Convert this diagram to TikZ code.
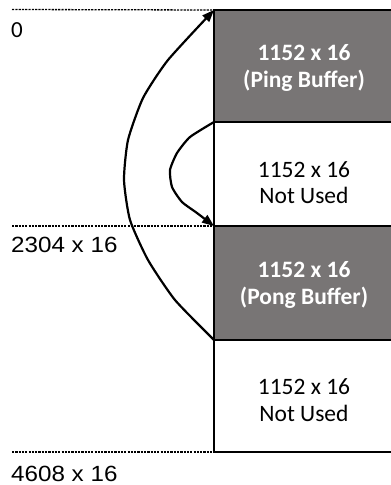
\documentclass[tikz,border=0pt]{standalone}
\usepackage{fontspec}
\setmainfont{Carlito}
\newfontfamily\labelfont{Liberation Sans}
\usetikzlibrary{arrows.meta}
\definecolor{bufgray}{RGB}{120,117,117}
\begin{document}
\begin{tikzpicture}[x=1pt,y=-1pt,
  membox/.style={draw=black, line width=1.9pt, rectangle, outer sep=0pt,
    inner sep=0pt, anchor=north west, minimum width=180pt},
  usedbox/.style={membox, fill=bufgray},
  freebox/.style={membox, fill=white},
  boxtext/.style={anchor=base, inner sep=0pt, font=\fontsize{23.5}{27}\selectfont},
  usedtext/.style={boxtext, text=white, font=\fontsize{23.5}{27}\selectfont\bfseries},
  addr/.style={anchor=base west, inner sep=0pt, font=\labelfont\fontsize{22}{26}\selectfont},
  guide/.style={line width=1.3pt, dash pattern=on 2.2pt off 1.1pt, black},
  flow/.style={line width=2.2pt, -{Triangle[length=12pt,width=9pt]}}
]
\useasboundingbox (0,0) rectangle (391,485);
\clip (0,0) rectangle (391,485);

% memory blocks
\node[usedbox, minimum height=112pt] (ping) at (214,10)  {};
\node[freebox, minimum height=104pt] (nu1)  at (214,122) {};
\node[usedbox, minimum height=114pt] (pong) at (214,226) {};
\node[freebox, minimum height=112pt] (nu2)  at (214,340) {};

% block contents
\node[usedtext] (pingA) at (304,60.5)  {1152 x 16};
\node[usedtext] (pingB) at (304,87.5)  {(Ping Buffer)};
\node[boxtext]  (nu1A)  at (304,177)   {1152 x 16};
\node[boxtext]  (nu1B)  at (304,203)   {Not Used};
\node[usedtext] (pongA) at (304,277)   {1152 x 16};
\node[usedtext] (pongB) at (304,304)   {(Pong Buffer)};
\node[boxtext]  (nu2A)  at (304,394)   {1152 x 16};
\node[boxtext]  (nu2B)  at (304,421)   {Not Used};

% address markers
\coordinate (g0) at (12,9.5);
\coordinate (g1) at (12,226);
\coordinate (g2) at (12,452);
\draw[guide] (g0) -- (ping.north west);
\draw[guide] (g1) -- (pong.north west);
\draw[guide] (g2) -- (nu2.south west);

\node[anchor=base west, inner sep=0pt, font=\fontsize{23}{26}\selectfont] (a0) at (11,37) {0};
\node[addr] (a1) at (11,252)   {\scalebox{1.1}[1]{2304 x 16}};
\node[addr] (a2) at (11,481.5) {\scalebox{1.1}[1]{4608 x 16}};

% buffer swap arrows
\draw[flow] plot[smooth, tension=0.35] coordinates {(pong.south west) (175,300) (148,260) (130,220) (124,180) (128,140) (143,98) (168,60) (ping.north west)};
\draw[flow] plot[smooth, tension=0.35] coordinates {(nu1.north west) (190,137) (177,153) (170,170) (172,187) (182,202) (197,213) (pong.north west)};
\end{tikzpicture}
\end{document}
